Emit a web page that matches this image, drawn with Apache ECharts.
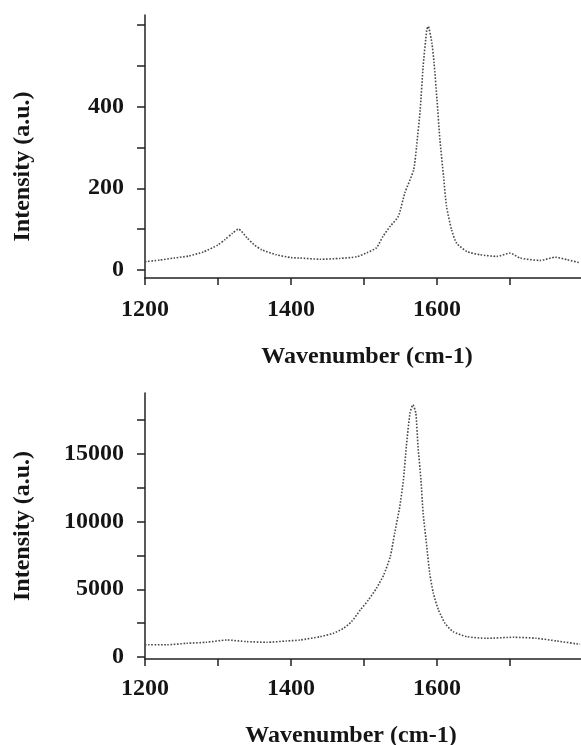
<!DOCTYPE html>
<html>
<head>
<meta charset="utf-8">
<script src="https://cdn.jsdelivr.net/npm/echarts@6/dist/echarts.min.js"></script>
<style>
  html, body { margin: 0; padding: 0; background: #fff; }
  #chart { width: 581px; height: 745px; }
</style>
</head>
<body>
<div id="chart"></div>
<script>
// upper spectrum
var topWave = [1200, 1220, 1240, 1260, 1280, 1300, 1310, 1320, 1328, 1340, 1350, 1360, 1380, 1400,
  1412, 1440, 1467, 1490, 1504, 1517, 1526, 1536, 1547, 1556, 1568, 1572, 1577, 1581, 1586, 1588,
  1593, 1596, 1600, 1604, 1609, 1613, 1620, 1627, 1641, 1659, 1682, 1700, 1714, 1741, 1762, 1778, 1796]
var topIntensity = [20, 24, 29, 34, 44, 61, 75, 90, 100, 78, 61, 49, 37, 30,
  29, 26, 28, 32, 42, 54, 82, 107, 131, 189, 245, 303, 393, 499, 589, 597,
  556, 507, 417, 319, 229, 156, 98, 65, 45, 37, 33, 41, 29, 23, 31, 25, 17]

// lower spectrum
var bottomWave = [1200, 1230, 1257, 1284, 1312, 1339, 1367, 1394, 1412, 1440, 1458, 1472, 1483, 1495,
  1506, 1517, 1527, 1536, 1542, 1549, 1554, 1558, 1563, 1567, 1571, 1574, 1578, 1581, 1586, 1590,
  1595, 1602, 1611, 1622, 1641, 1668, 1705, 1736, 1764, 1796]
var bottomIntensity = [900, 900, 1010, 1085, 1250, 1135, 1085, 1180, 1250, 1500, 1750, 2120, 2610, 3475,
  4210, 5075, 6060, 7420, 9145, 11110, 13085, 15550, 18015, 18630, 18015, 15550, 13085, 10620, 8155, 6185,
  4710, 3475, 2490, 1870, 1500, 1380, 1455, 1380, 1180, 935]

var xTicks = [1200, 1300, 1400, 1500, 1600, 1700]
var xLabels = [1200, 1400, 1600]
var topYTicks = [0, 100, 200, 300, 400, 500, 600]
var topYLabels = [0, 200, 400]
var bottomYTicks = [0, 2500, 5000, 7500, 10000, 12500, 15000, 17500]
var bottomYLabels = [0, 5000, 10000, 15000]

function pairs (xs, ys) {
  return xs.map(function (x, i) { return [x, ys[i]] })
}

var font = { fontFamily: 'Liberation Serif', fontWeight: 'bold', fontSize: 24, color: '#151515' }
var axisLine = { lineStyle: { color: '#222', width: 1.5 } }
var plain = function (v) { return String(v) }

function xAxis (gridIndex, pad, margin, gap) {
  return {
    type: 'value',
    gridIndex: gridIndex,
    min: 1200,
    max: 1800,
    name: 'Wavenumber (cm-1)',
    nameLocation: 'middle',
    nameGap: gap,
    nameTextStyle: Object.assign({ padding: pad }, font),
    axisLine: { onZero: false, lineStyle: axisLine.lineStyle },
    axisTick: { customValues: xTicks, length: 7, lineStyle: { color: '#222', width: 1.5 } },
    axisLabel: Object.assign({ customValues: xLabels, margin: margin, formatter: plain }, font),
    splitLine: { show: false }
  }
}

function yAxis (gridIndex, min, max, ticks, labels, pad) {
  return {
    type: 'value',
    gridIndex: gridIndex,
    min: min,
    max: max,
    name: 'Intensity (a.u.)',
    nameLocation: 'middle',
    nameRotate: 90,
    nameGap: 110,
    nameTextStyle: Object.assign({ padding: pad }, font),
    axisLine: axisLine,
    axisTick: { show: true, customValues: ticks, length: 8, lineStyle: { color: '#222', width: 1.5 } },
    axisLabel: Object.assign({ customValues: labels, margin: 21, formatter: plain }, font),
    splitLine: { show: false }
  }
}

var traceStyle = { color: '#4a4a4a', width: 1.6, type: 'dotted' }

var chart = echarts.init(document.getElementById('chart'))
chart.setOption({
  backgroundColor: '#fff',
  animation: false,
  grid: [
    { left: 145, right: -2, top: 15, bottom: 467, outerBoundsMode: 'none' },
    { left: 145, right: -2, top: 393, bottom: 86, outerBoundsMode: 'none' }
  ],
  xAxis: [xAxis(0, [0, 0, 0, 6], 20, 67), xAxis(1, [0, 26, 0, 0], 18, 65)],
  yAxis: [
    yAxis(0, -20, 625, topYTicks, topYLabels, [0, 40, 0, 0]),
    yAxis(1, -150, 19500, bottomYTicks, bottomYLabels, [0, 0, 0, 0])
  ],
  series: [
    {
      type: 'line',
      xAxisIndex: 0,
      yAxisIndex: 0,
      smooth: 0.2,
      showSymbol: false,
      lineStyle: traceStyle,
      data: pairs(topWave, topIntensity)
    },
    {
      type: 'line',
      xAxisIndex: 1,
      yAxisIndex: 1,
      smooth: 0.2,
      showSymbol: false,
      lineStyle: traceStyle,
      data: pairs(bottomWave, bottomIntensity)
    }
  ]
})
</script>
</body>
</html>
